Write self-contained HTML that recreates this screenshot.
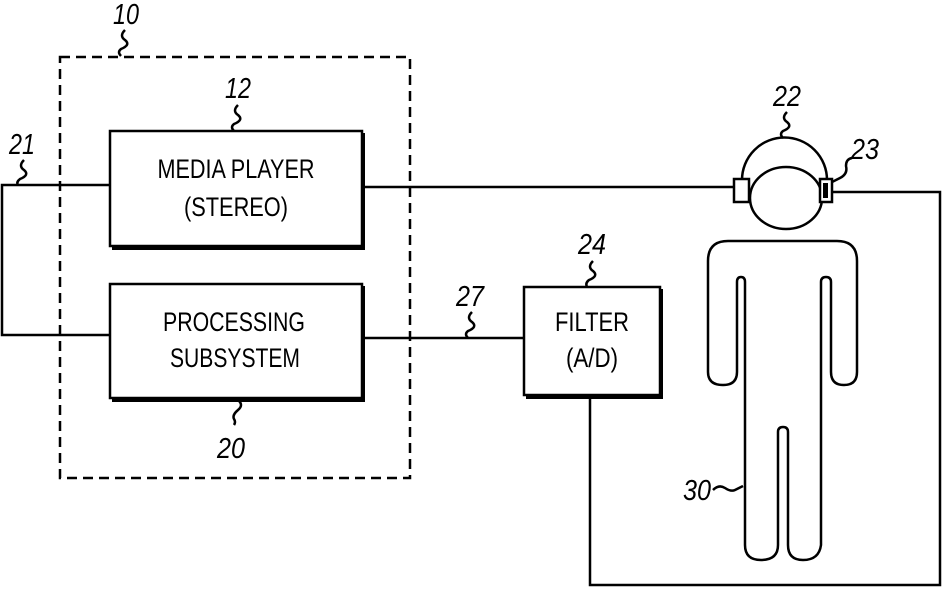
<!DOCTYPE html>
<html><head><meta charset="utf-8"><style>
html,body{margin:0;padding:0;background:#fff;}
svg{display:block;}
text{font-family:"Liberation Sans",sans-serif;fill:#000;}
.lbl{font-size:27px;text-anchor:middle;}
.num{font-size:29px;font-style:italic;text-anchor:middle;}
</style></head><body>
<svg width="944" height="590" viewBox="0 0 944 590" xmlns="http://www.w3.org/2000/svg">
<g fill="none" stroke="#000" stroke-width="2.5">
<rect x="60" y="57" width="350" height="421" stroke-dasharray="10,6"/>
<rect x="110" y="131" width="252" height="115"/>
<path d="M363 133 V248 H112" stroke-width="4"/>
<rect x="110" y="284" width="252" height="114"/>
<path d="M363 286 V400 H112" stroke-width="4"/>
<rect x="524" y="287" width="136" height="108"/>
<path d="M661 289 V397 H526" stroke-width="4"/>
<path d="M110 185 H2 V335 H110"/>
<path d="M364 187 H734"/>
<path d="M364 338 H524"/>
<path d="M832 192 H940 V585 H590 V397"/>
<path d="M742 180 A42 42 0 0 1 827 180"/>
<ellipse cx="786" cy="198" rx="36" ry="31"/>
<rect x="734" y="179" width="15" height="23" fill="#fff"/>
<rect x="820" y="179" width="12" height="23" fill="#fff"/>
<path d="M728 241 H837 Q857 241 857 261 V372 Q857 385 844 385 Q831 385 831 372 V282 Q831 277 826 277 Q821 277 821 282 V545 Q819 560 803 560 Q788 560 788 545 V432 Q788 427 783 427 Q778 427 778 432 V545 Q778 560 761 560 Q745 560 745 545 V282 Q745 277 741 277 Q737 277 737 282 V372 Q737 385 723 385 Q708 385 708 372 V261 Q708 241 728 241 Z"/>
<path d="M125 30 q-6 6 0 10 q6 5 -4 9 q-4 3 0 7"/>
<path d="M238 105 q-6 6 0 10 q6 5 -4 9 q-4 3 0 7"/>
<path d="M24 160 q-6 6 0 10 q6 5 -4 9 q-4 3 -2 6"/>
<path d="M238 400 q6 5 0 10 q-6 5 -4 9 q2 3 0 6"/>
<path d="M787 112 q-6 6 0 10 q6 5 -4 9 q-4 3 0 7"/>
<path d="M852 158 q-6 1 -6 8 q2 8 -6 12 q-4 2 -8 4"/>
<path d="M593 261 q-6 6 0 10 q6 5 -4 9 q-4 3 -2 7"/>
<path d="M472 312 q-6 6 0 10 q6 5 -4 9 q-4 3 0 7"/>
<path d="M713 490 q6 -6 12 -2 q6 4 10 2 q4 -2 8 -4"/>
</g>
<rect x="823" y="183" width="5" height="15" fill="#000"/>
<text class="lbl" x="236" y="178" textLength="157" lengthAdjust="spacingAndGlyphs">MEDIA PLAYER</text>
<text class="lbl" x="236" y="216" textLength="104" lengthAdjust="spacingAndGlyphs">(STEREO)</text>
<text class="lbl" x="234" y="331" textLength="142" lengthAdjust="spacingAndGlyphs">PROCESSING</text>
<text class="lbl" x="235" y="367" textLength="130" lengthAdjust="spacingAndGlyphs">SUBSYSTEM</text>
<text class="lbl" x="592" y="331" textLength="74" lengthAdjust="spacingAndGlyphs">FILTER</text>
<text class="lbl" x="592" y="367" textLength="52" lengthAdjust="spacingAndGlyphs">(A/D)</text>
<text class="num" x="126" y="24" textLength="26" lengthAdjust="spacingAndGlyphs">10</text>
<text class="num" x="238" y="98" textLength="26" lengthAdjust="spacingAndGlyphs">12</text>
<text class="num" x="22" y="154" textLength="26" lengthAdjust="spacingAndGlyphs">21</text>
<text class="num" x="231" y="458" textLength="28" lengthAdjust="spacingAndGlyphs">20</text>
<text class="num" x="787" y="106" textLength="28" lengthAdjust="spacingAndGlyphs">22</text>
<text class="num" x="865" y="159" textLength="28" lengthAdjust="spacingAndGlyphs">23</text>
<text class="num" x="592" y="254" textLength="28" lengthAdjust="spacingAndGlyphs">24</text>
<text class="num" x="470" y="306" textLength="28" lengthAdjust="spacingAndGlyphs">27</text>
<text class="num" x="697" y="500" textLength="28" lengthAdjust="spacingAndGlyphs">30</text>
</svg>
</body></html>
